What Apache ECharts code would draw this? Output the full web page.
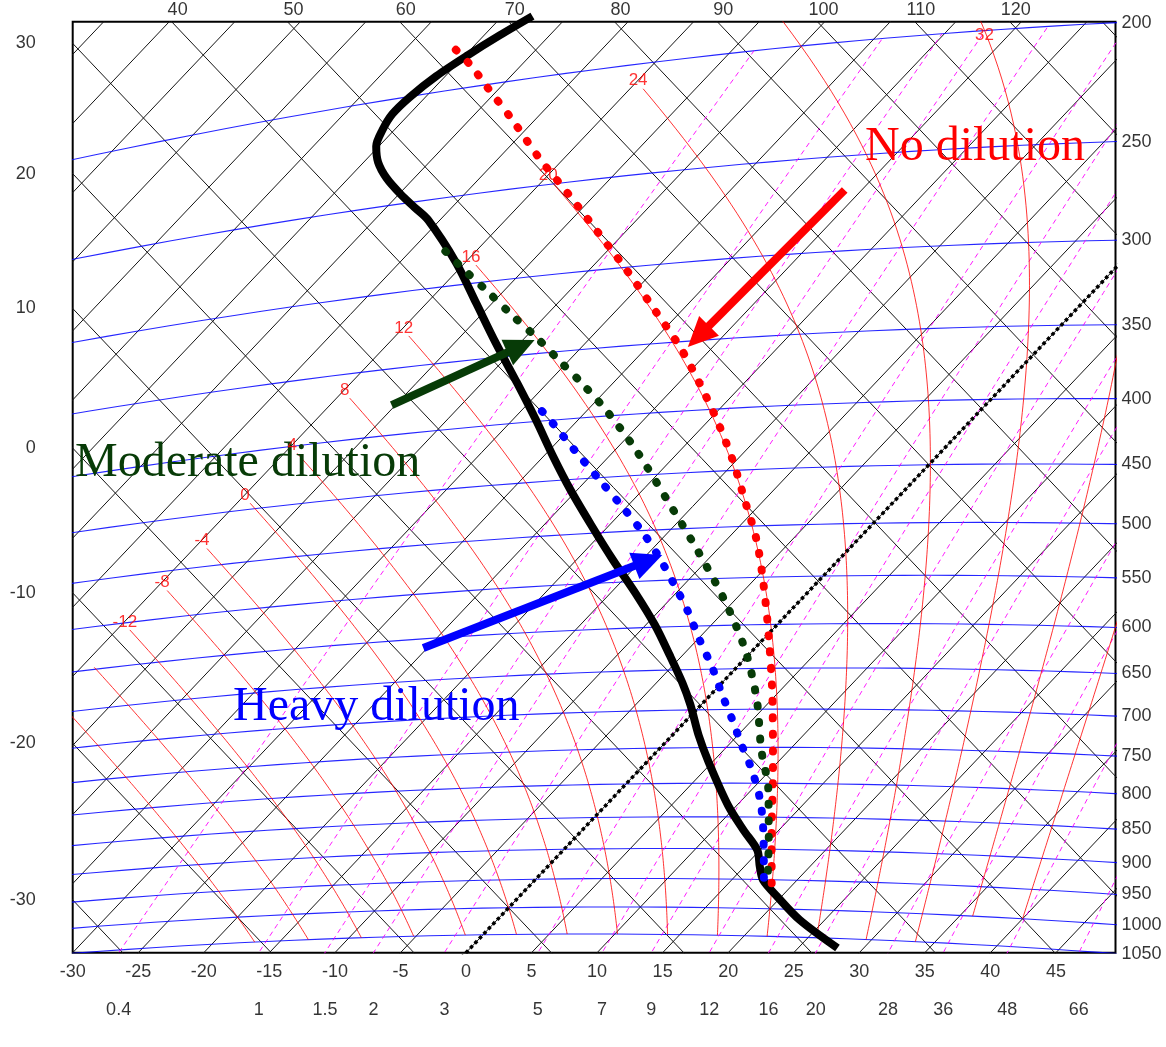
<!DOCTYPE html>
<html>
<head>
<meta charset="utf-8">
<title>Tephigram - parcel dilution</title>
<script src="https://cdn.jsdelivr.net/npm/echarts@6.0.0/dist/echarts.min.js"></script>
<style>
html,body{margin:0;padding:0;background:#ffffff;}
#chart{width:1166px;height:1047px;}
</style>
</head>
<body>
<div id="chart"></div>
<script>
// ================= values =================
// reference lines of the tephigram
const isothermsC = [-95,-90,-85,-80,-75,-70,-65,-60,-55,-50,-45,-40,-35,-30,-25,-20,-15,-10,-5,0,5,10,15,20,25,30,35,40,45];
const dryAdiabatsC = [-30,-20,-10,0,10,20,30,40,50,60,70,80,90,100,110,120,130];
const isobarsHPa = [200,250,300,350,400,450,500,550,600,650,700,750,800,850,900,950,1000,1050];
const mixingRatiosGkg = [0.4,1,1.5,2,3,5,7,9,12,16,20,28,36,48,66];
const satAdiabatsThetaW = [-20,-16,-12,-8,-4,0,4,8,12,16,20,24,28,32,36,40];
const satAdiabatLabels = [-12,-8,-4,0,4,8,12,16,20,24,32];
const freezingIsothermC = [0];

// tick labels
const bottomTempLabels = [-30,-25,-20,-15,-10,-5,0,5,10,15,20,25,30,35,40,45];
const bottomMixLabels = [0.4,1,1.5,2,3,5,7,9,12,16,20,28,36,48,66];
const leftThetaLabels = [30,20,10,0,-10,-20,-30];
const topThetaLabels = [40,50,60,70,80,90,100,110,120];
const rightPressureLabels = [200,250,300,350,400,450,500,550,600,650,700,750,800,850,900,950,1000,1050];

// environmental sounding (hPa, degC)
const soundingP = [175.7,181.0,186.8,193.3,200.3,206.4,212.8,219.8,227.5,235.9,244.9,252.7,260.6,287.0,312.7,340.3,369.8,398.9,428.2,459.2,492.2,527.2,562.1,597.5,632.3,666.1,693.7,733.1,769.8,832.2,870.3,901.7,928.8,950.8,978.8,1018.8,1067.7];
const soundingT = [-62.7,-63.8,-64.8,-65.7,-66.2,-66.3,-65.9,-65.2,-63.9,-62.1,-59.9,-57.9,-55.9,-50.6,-46.2,-41.8,-37.3,-33.2,-29.4,-25.5,-21.4,-17.2,-13.1,-9.3,-6.0,-3.0,-0.8,2.0,4.7,9.3,12.3,14.8,16.2,17.4,19.7,23.1,28.0];

// parcel: no dilution (red)
const noDilutionP = [956.1,877.6,781.2,688.6,617.4,558.0,513.2,476.0,441.3,408.5,380.0,353.6,327.9,300.4,275.9,255.6,236.4,217.0,201.5,190.9,182.8];
const noDilutionT = [18.3,14.8,10.2,5.1,0.5,-3.9,-7.7,-11.5,-15.3,-19.4,-23.4,-27.5,-32.1,-37.4,-42.6,-47.2,-51.9,-56.7,-60.9,-63.9,-66.5];
// parcel: moderate dilution (dark green)
const moderateP = [935.1,882.3,809.9,752.6,688.4,628.3,572.7,520.9,473.1,428.7,395.3,374.3,356.5,339.2,322.8,307.0,292.0,276.7];
const moderateT = [17.1,14.8,11.3,7.8,3.9,-0.6,-5.8,-11.5,-17.4,-23.4,-28.6,-32.3,-35.7,-39.1,-42.6,-46.0,-49.4,-52.9];
// parcel: heavy dilution (blue)
const heavyP = [946.9,869.9,824.6,781.4,746.8,713.8,681.7,648.7,615.8,584.4,555.3,527.3,504.3,480.1,452.1,425.3,397.5,387.9];
const heavyT = [17.3,13.8,11.4,8.6,6.0,3.5,0.9,-1.8,-4.8,-7.7,-10.7,-13.8,-16.6,-19.9,-24.0,-28.1,-32.5,-34.2];

// annotation arrows: [T, p] of tail and tip
const arrowTails = [[-26.3,267],[-45.3,376.6],[-25.3,610.7]];
const arrowTips  = [[-26.9,354],[-39.1,340.6],[-13.8,524.5]];
const annotationTexts = ['No dilution','Moderate dilution','Heavy dilution'];

// ================= styling =================
const COL_RED = '#ff0000', COL_GREEN = '#073b07', COL_BLUE = '#0000ff';
const arrowColors = [COL_RED, COL_GREEN, COL_BLUE];
const FONT = 'Liberation Sans';

// ================= tephigram projection =================
// axis X = T + Phi, axis Y = Phi - T, Phi = K ln(theta/273.15)
const K = 281, KAPPA = 0.2857;
const X_MIN = -66.51, X_MAX = 92.58, Y_MIN = -6.51, Y_MAX = 128.22;
const ES_FACTOR = 0.96;       // saturation vapour pressure scale used by the diagram
const SAT_TOP_T = -49;        // saturated adiabats stop at this temperature
function Phi(thetaK){ return K*Math.log(thetaK/273.15); }
function projTP(T,p){ const th=(T+273.15)*Math.pow(1000/p,KAPPA); const f=Phi(th); return [T+f, f-T]; }
function projTTh(T,thC){ const f=Phi(thC+273.15); return [T+f, f-T]; }
function esat(Tc){ return ES_FACTOR*6.112*Math.exp(17.67*Tc/(Tc+243.5)); }
function dewpoint(e){ const l=Math.log(e/(ES_FACTOR*6.112)); return 243.5*l/(17.67-l); }
function mixT(w,p){ return dewpoint(w*p/(622+w)); }
function dTdp(p,Tc){
  const T=Tc+273.15, e=esat(Tc), rs=0.622*e/(p-e);
  const Rd=287.04, cp=1005.7, L=2.501e6;
  return (Rd*T + L*rs)/(cp + L*L*rs*0.622/(Rd*T*T))/p;
}
function rk4(p,T,dp){
  const k1=dTdp(p,T), k2=dTdp(p+dp/2,T+k1*dp/2), k3=dTdp(p+dp/2,T+k2*dp/2), k4=dTdp(p+dp,T+k3*dp);
  return T+dp*(k1+2*k2+2*k3+k4)/6;
}
function satAdiabat(thw){
  const pBottom = thw<=32 ? 1050 : 1000;
  const down=[]; let pp=1000, TT=thw;
  while(pp < pBottom-1e-6){ TT=rk4(pp,TT,5); pp+=5; down.push([TT,pp]); }
  const up=[[thw,1000]]; let p=1000, T=thw;
  while(p > 100){
    const Tn=rk4(p,T,-5), pn=p-5;
    if(Tn <= SAT_TOP_T){ const f=(T-SAT_TOP_T)/(T-Tn); up.push([SAT_TOP_T, p-5*f]); break; }
    T=Tn; p=pn; up.push([T,p]);
  }
  return down.reverse().concat(up);
}

// ================= series =================
const series = [];
function refLine(data, color, width, type, z, opacity){
  series.push({type:'line', data, showSymbol:false, symbol:'none', silent:true, animation:false, clip:true, z,
    lineStyle:{color, width, type:type||'solid', opacity:opacity==null?1:opacity}});
}
// isotherms and dry adiabats (black straight lines)
isothermsC.forEach(T => refLine([projTTh(T,-90), projTTh(T,220)], '#141414', 1, 'solid', 1));
dryAdiabatsC.forEach(th => refLine([projTTh(-160,th), projTTh(90,th)], '#141414', 1, 'solid', 1));
// isobars (blue)
isobarsHPa.forEach(p => { const d=[]; for(let T=-140; T<=70; T+=2) d.push(projTP(T,p)); refLine(d, '#0000ff', 1.1, 'solid', 2, 0.85); });
// saturation mixing ratio lines (magenta dashed)
mixingRatiosGkg.forEach(w => { const d=[]; for(let p=1160; p>=200; p-=10) d.push(projTP(mixT(w,p),p)); refLine(d, '#ff00ff', 1, [5,4], 2, 0.9); });
// saturated adiabats (red)
const satCurves = {};
satAdiabatsThetaW.forEach(thw => { const c=satAdiabat(thw); satCurves[thw]=c; refLine(c.map(q=>projTP(q[0],q[1])), '#ff0000', 1, 'solid', 3, 0.8); });
// 0 degC isotherm (black dotted)
freezingIsothermC.forEach(T => refLine([projTTh(T,-90), projTTh(T,220)], '#000', 3.5, [3.5,3], 4));

// environmental sounding
series.push({type:'line', data: soundingP.map((p,i)=>projTP(soundingT[i],p)), showSymbol:false, symbol:'none', smooth:0.3,
  silent:true, animation:false, clip:false, z:6, lineStyle:{color:'#000', width:8, join:'round', cap:'butt'}});
// parcels (dotted)
[[noDilutionP,noDilutionT,COL_RED,7],[moderateP,moderateT,COL_GREEN,8],[heavyP,heavyT,COL_BLUE,9]].forEach(([P,T,c,z]) => {
  series.push({type:'line', data: P.map((p,i)=>projTP(T[i],p)), showSymbol:false, symbol:'none', smooth:0.3,
    silent:true, animation:false, clip:true, z, lineStyle:{color:c, width:8, type:[1,15.5], cap:'round'}});
});

// arrows
series.push({type:'custom', coordinateSystem:'cartesian2d', silent:true, animation:false, clip:false, z:12,
  data: arrowTails.map((a,i)=>{ const t=projTP(a[0],a[1]), h=projTP(arrowTips[i][0],arrowTips[i][1]); return [t[0],t[1],h[0],h[1]]; }),
  renderItem(params, api){
    const a=api.coord([api.value(0),api.value(1)]), b=api.coord([api.value(2),api.value(3)]);
    const col=arrowColors[params.dataIndex];
    const dx=b[0]-a[0], dy=b[1]-a[1], len=Math.hypot(dx,dy), ux=dx/len, uy=dy/len, nx=-uy, ny=ux;
    const HL=30, HW=14, bx=b[0]-ux*HL, by=b[1]-uy*HL;
    return {type:'group', children:[
      {type:'line', shape:{x1:a[0],y1:a[1],x2:bx+ux*3,y2:by+uy*3}, style:{stroke:col, lineWidth:8}},
      {type:'polygon', shape:{points:[[b[0],b[1]],[bx+nx*HW,by+ny*HW],[bx-nx*HW,by-ny*HW]]}, style:{fill:col}}
    ]};
  }
});

// tick label helper
function labelSeries(items, label, z){
  series.push({type:'scatter', symbol:'circle', symbolSize:0.01, itemStyle:{color:'rgba(0,0,0,0)'}, silent:true, animation:false, clip:false, z:z||15,
    data: items.map(it=>({name:it[2], value:[it[0],it[1]]})),
    label: Object.assign({show:true, formatter:'{b}', color:'#000', fontFamily:FONT, fontSize:18}, label)});
}
labelSeries(bottomTempLabels.map(T=>[2*T+Y_MIN, Y_MIN, String(T)]), {position:'bottom', distance:10});
function bisect(f, lo, hi){ for(let i=0;i<80;i++){ const m=(lo+hi)/2; if(f(lo)*f(m)<=0) hi=m; else lo=m; } return (lo+hi)/2; }
labelSeries(bottomMixLabels.map(w=>{
  const p=bisect(pp=>projTP(mixT(w,pp),pp)[1]-Y_MIN, 850, 1400);
  const q=projTP(mixT(w,p),p); return [q[0], Y_MIN, String(w)];
}), {position:'bottom', distance:48});
labelSeries(leftThetaLabels.map(th=>{ const f=Phi(th+273.15); return [X_MIN, 2*f-X_MIN, String(th)]; }), {position:'left', distance:37});
labelSeries(topThetaLabels.map(th=>{ const f=Phi(th+273.15); return [2*f-Y_MAX, Y_MAX, String(th)]; }), {position:'top', distance:3, offset:[6,0]});
labelSeries(rightPressureLabels.map(p=>{ const T=bisect(t=>projTP(t,p)[0]-X_MAX, -150, 80); const q=projTP(T,p); return [X_MAX, q[1], String(p)]; }), {position:'right', distance:6});
labelSeries(satAdiabatLabels.map(thw=>{
  const c=satCurves[thw]; let pt=c[c.length-1];
  if(pt[1] < 200){ let best=c[0]; c.forEach(q=>{ if(Math.abs(q[1]-205)<Math.abs(best[1]-205)) best=q; }); pt=best; }
  const q=projTP(pt[0],pt[1]); return [q[0],q[1],String(thw)];
}).filter(it=>it[0]>X_MIN+1 && it[1]<Y_MAX-1), {position:'inside', offset:[-5,-8], color:'#ff0000', fontSize:17}, 120);

const chart = echarts.init(document.getElementById('chart'), null, {renderer:'canvas', width:1166, height:1047});
chart.setOption({
  animation:false,
  backgroundColor:'#ffffff',
  grid:{left:72.7, right:50.5, top:21.7, bottom:94.3, show:true, borderColor:'#000', borderWidth:2, backgroundColor:'transparent'},
  xAxis:{type:'value', min:X_MIN, max:X_MAX, show:false},
  yAxis:{type:'value', min:Y_MIN, max:Y_MAX, show:false},
  series,
  graphic:[
    {type:'text', x:865, y:147, z:100, style:{text:annotationTexts[0], fill:COL_RED, font:'48px "Liberation Serif"', align:'left', verticalAlign:'middle'}},
    {type:'text', x:75, y:463, z:100, style:{text:annotationTexts[1], fill:COL_GREEN, font:'48px "Liberation Serif"', align:'left', verticalAlign:'middle'}},
    {type:'text', x:233, y:707, z:100, style:{text:annotationTexts[2], fill:COL_BLUE, font:'48px "Liberation Serif"', align:'left', verticalAlign:'middle'}}
  ]
});
</script>
</body>
</html>
